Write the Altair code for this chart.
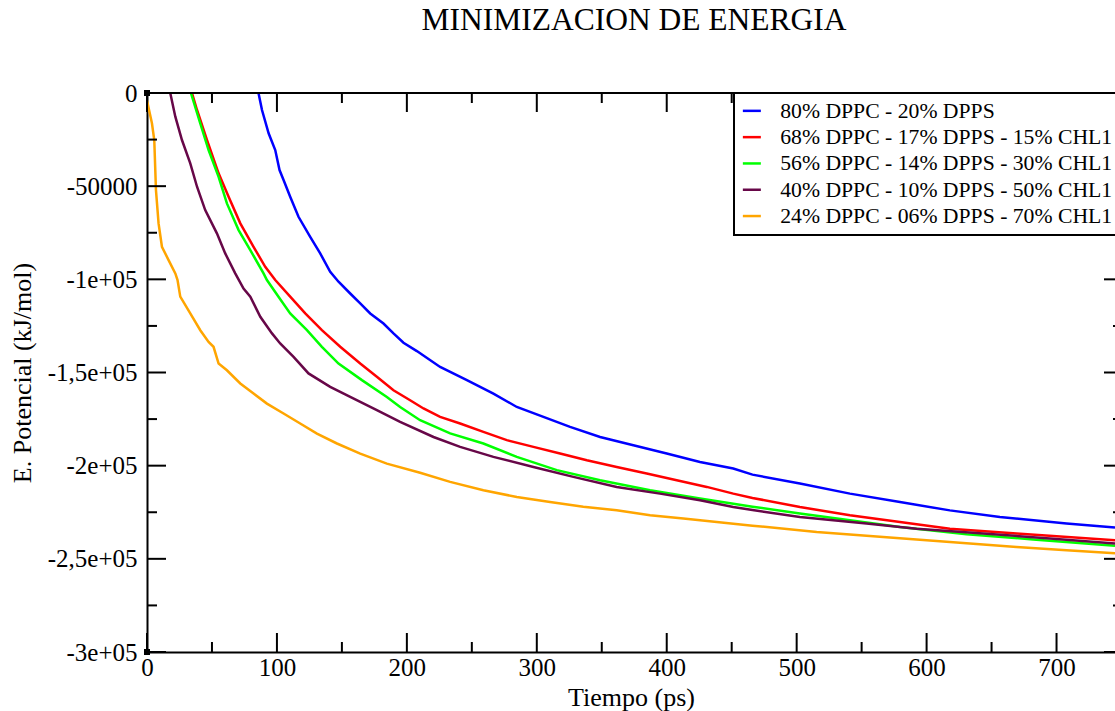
import altair as alt
import pandas as pd

# Sistemas simulados y colores de cada curva
SERIES = [
    "80% DPPC - 20% DPPS",
    "68% DPPC - 17% DPPS - 15% CHL1",
    "56% DPPC - 14% DPPS - 30% CHL1",
    "40% DPPC - 10% DPPS - 50% CHL1",
    "24% DPPC - 06% DPPS - 70% CHL1",
]
COLORS = ["#0000ff", "#ff0000", "#00ff00", "#670748", "#ffa500"]

# Tiempo (ps) y energia potencial (kJ/mol) de cada sistema
t_80 = [85.8, 88.5, 93.6, 98.7, 102.0, 105.1, 110.2, 116.6, 125.6, 133.3, 141.0, 147.4,
        156.4, 164.1, 171.8, 182.0, 189.7, 197.4, 207.7, 225.6, 246.2, 266.6, 284.6, 305.1,
        325.6, 348.7, 374.3, 400.0, 425.6, 451.2, 466.0, 502.5, 541.0, 579.5, 617.9, 656.4,
        707.7, 745.0]
e_80 = [0, -9130, -21640, -30610, -41350, -46720, -55690, -66430, -77170, -86080, -95960, -101300,
        -107600, -112900, -118300, -123700, -129000, -134000, -138500, -147000, -154100, -161300,
        -168500, -173800, -179200, -184600, -189000, -193500, -198000, -201500, -204800, -209600,
        -215000, -219500, -224000, -227500, -231100, -233200]

t_68 = [34.6, 38.5, 46.2, 55.1, 62.8, 71.8, 82.0, 91.0, 98.7, 110.2, 121.8, 134.6, 148.7,
        164.1, 176.9, 189.7, 202.5, 212.8, 225.6, 241.0, 258.9, 276.9, 297.4, 317.9, 338.5,
        361.5, 384.6, 407.7, 430.8, 451.2, 466.0, 502.5, 541.0, 579.5, 617.9, 669.2, 745.0]
e_68 = [0, -9130, -25240, -43120, -55690, -69970, -82540, -93270, -100400, -109300, -118300,
        -127300, -136200, -145200, -152300, -159500, -164900, -169300, -173800, -177400, -181900,
        -186300, -189900, -193500, -197100, -200700, -204200, -207800, -211400, -215000, -217300,
        -222200, -226600, -230200, -233800, -236400, -240000]

t_56 = [33.8, 41.0, 47.4, 55.1, 61.5, 70.5, 79.5, 89.7, 92.3, 101.2, 110.2, 123.1, 134.6,
        147.4, 165.4, 184.6, 194.8, 210.2, 233.3, 258.9, 284.6, 315.4, 348.7, 387.2, 425.6,
        466.0, 502.5, 541.0, 579.5, 630.8, 682.0, 745.0]
e_56 = [0, -16270, -30610, -44950, -59240, -73570, -84310, -96820, -100400, -109300, -118300,
        -127300, -136200, -145200, -154100, -163100, -168500, -175600, -182700, -188100, -195300,
        -202400, -207800, -213200, -217600, -222000, -225700, -229300, -232900, -236800, -239600,
        -243000]

t_40 = [17.9, 21.8, 26.9, 33.3, 38.5, 44.8, 53.8, 60.2, 67.9, 74.3, 79.5, 87.2, 96.2, 102.5,
        112.8, 124.3, 141.0, 156.4, 176.9, 194.8, 220.5, 241.0, 266.6, 297.4, 328.2, 361.5,
        394.8, 425.6, 451.2, 466.0, 502.5, 553.8, 592.3, 643.6, 694.9, 745.0]
e_40 = [0, -12700, -25240, -37750, -50300, -62830, -75340, -86080, -96820, -105000, -109300,
        -120100, -129000, -134400, -141600, -150500, -157700, -163100, -170200, -176500, -184600,
        -189900, -195300, -200700, -206000, -211400, -215000, -218600, -222200, -223800, -227500,
        -231100, -233800, -236400, -239100, -241800]

t_24 = [0.0, 3.8, 5.6, 6.9, 8.9, 11.5, 16.6, 21.8, 23.5, 25.6, 33.3, 41.0, 47.4, 51.2, 55.1,
        61.5, 71.8, 82.0, 92.3, 105.1, 117.9, 130.8, 146.2, 164.1, 184.6, 210.2, 233.3, 258.9,
        284.6, 310.2, 335.8, 361.5, 387.2, 412.8, 438.5, 466.0, 515.4, 566.6, 617.9, 669.2,
        707.7, 745.0]
e_24 = [-4000, -16270, -25240, -52090, -69970, -82540, -89680, -96820, -100400, -109300,
        -118300, -127300, -133600, -136200, -145200, -148800, -155900, -161300, -166700, -172000,
        -177400, -182800, -188100, -193500, -198900, -203800, -208700, -213200, -216800, -219500,
        -222100, -223900, -226600, -228400, -230200, -232200, -235600, -238300, -241000, -243600,
        -245400, -247000]

# Marcas de los ejes
X_MAJOR = [0, 100, 200, 300, 400, 500, 600, 700]
X_MINOR = [50, 150, 250, 350, 450, 550, 650]
Y_MAJOR = [0, -50000, -100000, -150000, -200000, -250000, -300000]
Y_MINOR = [-25000, -75000, -125000, -175000, -225000, -275000]
Y_LABELS = ["0", "-50000", "-1e+05", "-1,5e+05", "-2e+05", "-2,5e+05", "-3e+05"]

X_DOMAIN = [0, 745]
Y_DOMAIN = [-300000, 0]
W, H = 968, 559
FONT = "Liberation Serif"

rows = []
for name, ts, es in zip(SERIES, [t_80, t_68, t_56, t_40, t_24], [e_80, e_68, e_56, e_40, e_24]):
    for t, e in zip(ts, es):
        rows.append({"serie": name, "t": t, "E": e})
df = pd.DataFrame(rows)

xs = alt.Scale(domain=X_DOMAIN, nice=False, zero=False)
ys = alt.Scale(domain=Y_DOMAIN, nice=False, zero=False)

label_expr = "".join(
    f"datum.value == {v} ? '{s}' : " for v, s in zip(Y_MAJOR, Y_LABELS)
) + "datum.label"

# Ejes compartidos por todas las capas
X_AXIS = alt.Axis(
    title="Tiempo (ps)", values=X_MAJOR, format="d", ticks=False, tickSize=0,
    labelPadding=3, labelFlush=False, labelOverlap=False, grid=False,
    domainColor="black", domainWidth=2,
)
Y_AXIS = alt.Axis(
    title="E. Potencial (kJ/mol)", values=Y_MAJOR, labelExpr=label_expr,
    ticks=False, tickSize=0, labelPadding=10, labelFlush=False, labelOverlap=False,
    grid=False, domainColor="black", domainWidth=2, titlePadding=12,
)

lines = alt.Chart(df).mark_line(strokeWidth=2.5, clip=True).encode(
    x=alt.X("t:Q", scale=xs, axis=X_AXIS),
    y=alt.Y("E:Q", scale=ys, axis=Y_AXIS),
    color=alt.Color("serie:N", scale=alt.Scale(domain=SERIES, range=COLORS),
                    sort=SERIES, legend=alt.Legend(
                        title=None, orient="none", legendX=587, legendY=0,
                        symbolType="stroke", symbolSize=324, symbolStrokeWidth=2.5,
                        labelFont=FONT, labelFontSize=21.7, labelColor="black",
                        labelOffset=17.5, rowPadding=3.3, labelLimit=600, padding=7,
                        fillColor="white", strokeColor="black",
                    )),
)


def xticks(values, length, top):
    d = pd.DataFrame({"v": values})
    y0, y1 = (0, length) if top else (H, H - length)
    return alt.Chart(d).mark_rule(color="black", strokeWidth=2).encode(
        x=alt.X("v:Q", scale=xs, axis=X_AXIS),
        y=alt.value(y0), y2=alt.value(y1),
    )


def yticks(values, x0, x1):
    d = pd.DataFrame({"v": values})
    return alt.Chart(d).mark_rule(color="black", strokeWidth=2).encode(
        y=alt.Y("v:Q", scale=ys, axis=Y_AXIS),
        x=alt.value(x0), x2=alt.value(x1),
    )


frame_top = alt.Chart(pd.DataFrame({"v": [0]})).mark_rule(color="black", strokeWidth=2).encode(
    y=alt.Y("v:Q", scale=ys, axis=Y_AXIS), x=alt.value(0), x2=alt.value(W),
)

corners = alt.Chart(pd.DataFrame({"t": [0, 0], "E": [0, -300000]})).mark_point(
    shape="square", size=36, filled=True, color="black", opacity=1,
).encode(
    x=alt.X("t:Q", scale=xs, axis=X_AXIS),
    y=alt.Y("E:Q", scale=ys, axis=Y_AXIS),
)

chart = alt.layer(
    lines,
    frame_top,
    xticks(X_MAJOR, 19, False), xticks(X_MINOR, 10, False),
    xticks(X_MAJOR, 19, True), xticks(X_MINOR, 10, True),
    yticks(Y_MAJOR, 0, 19), yticks(Y_MINOR, 0, 10),
    yticks(Y_MAJOR, W - 11, W), yticks(Y_MINOR, W - 2, W),
    corners,
).properties(
    width=W, height=H,
    background="white",
    padding={"left": 147, "top": 93, "right": 0, "bottom": 59},
    autosize=alt.AutoSizeParams(type="none"),
    title=alt.TitleParams(
        "MINIMIZACION DE ENERGIA", font=FONT, fontSize=31.5, fontWeight="normal",
        color="black", anchor="middle", offset=45, dx=3,
    ),
).configure_view(stroke=None).configure_axis(
    labelFont=FONT, labelFontSize=25, labelColor="black",
    titleFont=FONT, titleFontSize=26, titleFontWeight="normal", titleColor="black",
).configure_legend(strokeWidth=2, cornerRadius=0)

chart.save("out.html", embed_options={"renderer": "svg", "actions": False})
